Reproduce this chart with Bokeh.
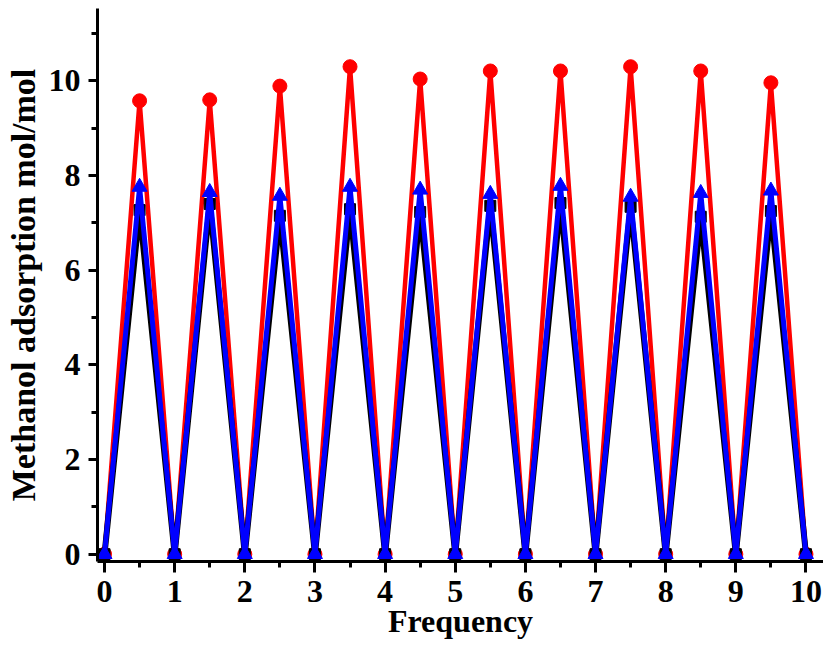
from bokeh.plotting import figure
from bokeh.models import FixedTicker, Range1d
from bokeh.embed import file_html
from bokeh.resources import INLINE

# Data
freq = [0, 0.5, 1, 1.5, 2, 2.5, 3, 3.5, 4, 4.5, 5, 5.5, 6, 6.5, 7, 7.5, 8, 8.5, 9, 9.5, 10]
red_peaks = [9.58, 9.60, 9.89, 10.30, 10.04, 10.21, 10.21, 10.30, 10.21, 9.96]
blue_peaks = [7.76, 7.65, 7.57, 7.76, 7.70, 7.61, 7.78, 7.55, 7.63, 7.68]
black_peaks = [7.27, 7.40, 7.15, 7.29, 7.23, 7.36, 7.42, 7.34, 7.13, 7.25]
x_ticks = [0, 1, 2, 3, 4, 5, 6, 7, 8, 9, 10]
x_minor = [0.5, 1.5, 2.5, 3.5, 4.5, 5.5, 6.5, 7.5, 8.5, 9.5]
y_ticks = [0, 2, 4, 6, 8, 10]
y_minor = [1, 3, 5, 7, 9, 11]


def series(peaks):
    out = []
    for pk in peaks:
        out += [0, pk]
    out.append(0)
    return out

red = series(red_peaks)
blue = series(blue_peaks)
black = series(black_peaks)

p = figure(width=823, height=644, output_backend="svg", toolbar_location=None,
           x_range=Range1d(-0.1, 10.25), y_range=Range1d(-0.154, 11.53),
           min_border_left=97, min_border_bottom=83, min_border_top=8, min_border_right=0)
p.outline_line_color = None
p.grid.visible = False
p.background_fill_color = "white"

p.line(freq, red, line_color="#FF0000", line_width=4.5)
p.scatter(freq, red, marker="circle", size=14, fill_color="#FF0000", line_color="#FF0000")
p.line(freq, black, line_color="black", line_width=6)
p.scatter(freq, black, marker="square", size=11, fill_color="black", line_color="black")
p.line(freq, blue, line_color="#0000FF", line_width=5)
p.scatter(freq, blue, marker="triangle", size=15, fill_color="#0000FF", line_color="#0000FF")

for ax in (p.xaxis[0], p.yaxis[0]):
    ax.axis_line_width = 3
    ax.axis_line_color = "black"
    ax.major_tick_line_width = 3
    ax.minor_tick_line_width = 3
    ax.major_tick_in = 0
    ax.minor_tick_in = 0
    ax.major_label_text_font = "Liberation Serif"
    ax.major_label_text_font_style = "bold"
    ax.major_label_text_font_size = "32px"
    ax.major_label_text_color = "black"
    ax.axis_label_text_font = "Liberation Serif"
    ax.axis_label_text_font_style = "bold"
    ax.axis_label_text_color = "black"

p.xaxis[0].major_tick_out = 11
p.xaxis[0].minor_tick_out = 6
p.yaxis[0].major_tick_out = 9
p.yaxis[0].minor_tick_out = 6
p.xaxis[0].axis_label_text_font_size = "32px"
p.yaxis[0].axis_label_text_font_size = "34px"
p.xaxis[0].ticker = FixedTicker(ticks=x_ticks, minor_ticks=x_minor)
p.yaxis[0].ticker = FixedTicker(ticks=y_ticks, minor_ticks=y_minor)
p.xaxis[0].axis_label = "Frequency"
p.yaxis[0].axis_label = "Methanol adsorption mol/mol"
p.xaxis[0].major_label_standoff = 8
p.xaxis[0].axis_label_standoff = -2
p.yaxis[0].major_label_standoff = 8
p.yaxis[0].axis_label_standoff = 4

open("out.html", "w").write(file_html(p, INLINE))
